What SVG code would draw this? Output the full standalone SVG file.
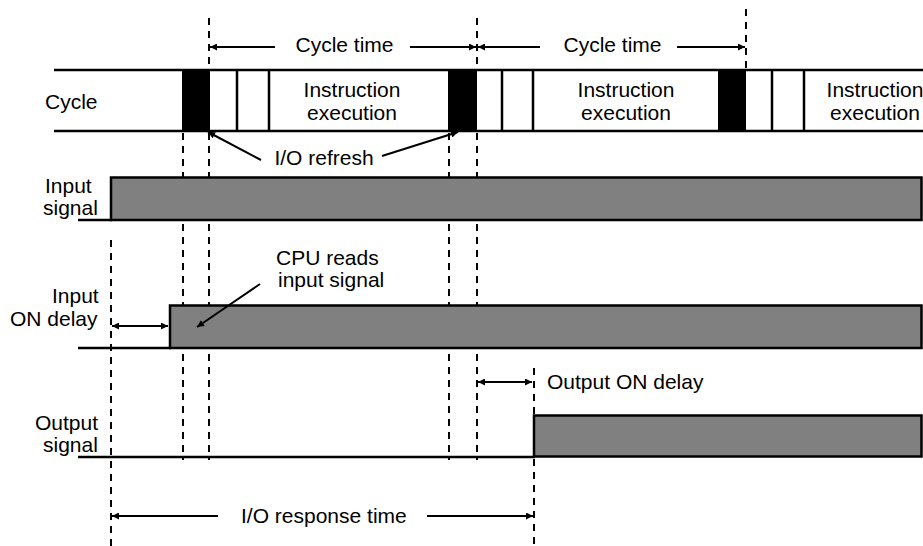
<svg xmlns="http://www.w3.org/2000/svg" width="923" height="546" viewBox="0 0 923 546">
<style>
text{font-family:"Liberation Sans",Arial,Helvetica,sans-serif;font-size:21px;fill:#000}
.ln{stroke:#000;stroke-width:2.5;fill:none}
.blk{fill:#000;stroke:none}
.sig{fill:#808080;stroke:#000;stroke-width:2.5}
.dash{stroke:#000;stroke-width:2;stroke-dasharray:7 6;fill:none}
.arr{stroke:#000;stroke-width:2;fill:none}
.mc{text-anchor:middle}
</style>
<defs>
<marker id="ah" viewBox="0 0 10 10" refX="10" refY="5" markerUnits="userSpaceOnUse" markerWidth="9" markerHeight="7" orient="auto-start-reverse">
<path d="M0,0 L10,5 L0,10 z" fill="#000"/>
</marker>
</defs>
<rect width="923" height="546" fill="#fff"/>

<g id="cycle">
<line class="ln" x1="54" y1="70" x2="923" y2="70"/>
<line class="ln" x1="54" y1="131" x2="923" y2="131"/>
<rect class="blk" x="182" y="69" width="28" height="63"/>
<rect class="blk" x="448" y="69" width="29" height="63"/>
<rect class="blk" x="718" y="69" width="28" height="63"/>
<line class="ln" x1="237" y1="70" x2="237" y2="131"/>
<line class="ln" x1="269" y1="70" x2="269" y2="131"/>
<line class="ln" x1="502" y1="70" x2="502" y2="131"/>
<line class="ln" x1="533" y1="70" x2="533" y2="131"/>
<line class="ln" x1="772" y1="70" x2="772" y2="131"/>
<line class="ln" x1="804" y1="70" x2="804" y2="131"/>
<text x="45" y="109">Cycle</text>
<text class="mc" x="352" y="97">Instruction</text>
<text class="mc" x="352" y="120">execution</text>
<text class="mc" x="626" y="97">Instruction</text>
<text class="mc" x="626" y="120">execution</text>
<text class="mc" x="875" y="97">Instruction</text>
<text class="mc" x="875" y="120">execution</text>
</g>

<g id="guides">
<line class="dash" x1="209" y1="18" x2="209" y2="64"/>
<line class="dash" x1="477" y1="18" x2="477" y2="64"/>
<line class="dash" x1="746" y1="9" x2="746" y2="70"/>
<line class="dash" x1="183" y1="133" x2="183" y2="460"/>
<line class="dash" x1="209" y1="133" x2="209" y2="460"/>
<line class="dash" x1="449" y1="133" x2="449" y2="460"/>
<line class="dash" x1="477" y1="133" x2="477" y2="460"/>
<line class="dash" x1="111" y1="240" x2="111" y2="546"/>
<line class="dash" x1="534" y1="368" x2="534" y2="546"/>
</g>

<g id="input-signal">
<line class="ln" x1="78" y1="220" x2="112" y2="220"/>
<rect class="sig" x="111" y="177.5" width="810.5" height="42.5"/>
<text x="45" y="193">Input</text>
<text x="43" y="215">signal</text>
</g>

<g id="input-on-delay">
<line class="ln" x1="78" y1="348" x2="171" y2="348"/>
<rect class="sig" x="170" y="305.5" width="751.5" height="42.5"/>
<text x="52" y="303">Input</text>
<text x="10" y="326">ON delay</text>
</g>

<g id="output-signal">
<line class="ln" x1="78" y1="457" x2="535" y2="457"/>
<rect class="sig" x="534" y="415.5" width="387.5" height="41"/>
<text x="35" y="430">Output</text>
<text x="43" y="452">signal</text>
</g>

<g id="labels">
<text class="mc" x="344.5" y="52">Cycle time</text>
<text class="mc" x="612.5" y="52">Cycle time</text>
<text class="mc" x="324" y="165">I/O refresh</text>
<text x="276" y="265">CPU reads</text>
<text x="278" y="287">input signal</text>
<text x="547" y="389">Output ON delay</text>
<text x="241" y="523">I/O response time</text>
</g>

<g id="connectors">
<line class="arr" x1="275" y1="47" x2="210" y2="47" marker-end="url(#ah)"/>
<line class="arr" x1="410" y1="47" x2="476" y2="47" marker-end="url(#ah)"/>
<line class="arr" x1="540" y1="47" x2="478" y2="47" marker-end="url(#ah)"/>
<line class="arr" x1="677" y1="47" x2="745" y2="47" marker-end="url(#ah)"/>
<line class="arr" x1="261" y1="160" x2="208" y2="132" marker-end="url(#ah)"/>
<line class="arr" x1="382" y1="156" x2="458" y2="132" marker-end="url(#ah)"/>
<line class="arr" x1="260" y1="284" x2="197" y2="327" marker-end="url(#ah)"/>
<line class="arr" x1="112" y1="326" x2="168" y2="326" marker-start="url(#ah)" marker-end="url(#ah)"/>
<line class="arr" x1="478" y1="382" x2="532" y2="382" marker-start="url(#ah)" marker-end="url(#ah)"/>
<line class="arr" x1="218" y1="516" x2="112" y2="516" marker-end="url(#ah)"/>
<line class="arr" x1="427" y1="516" x2="533" y2="516" marker-end="url(#ah)"/>
</g>
</svg>
